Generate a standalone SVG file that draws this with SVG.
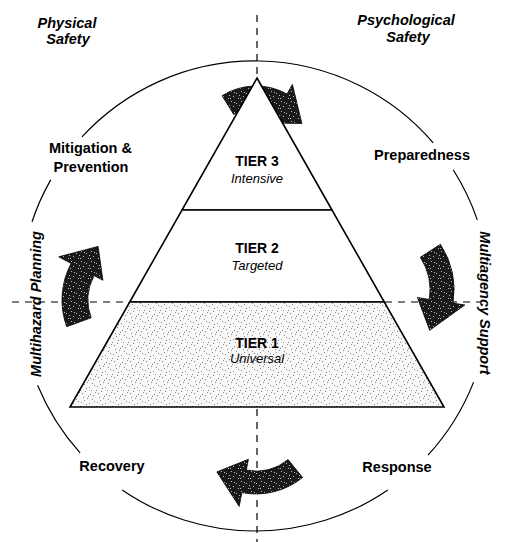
<svg xmlns="http://www.w3.org/2000/svg" width="508" height="542" viewBox="0 0 508 542">
  <style>
    .lbl { font-family: "Liberation Sans", Arial, sans-serif; font-size: 14.5px; font-weight: bold; fill: #000; text-anchor: middle; }
    .it { font-style: italic; }
    .tier { font-family: "Liberation Sans", Arial, sans-serif; font-size: 14px; font-weight: bold; fill: #000; text-anchor: middle; }
    .sub { font-family: "Liberation Sans", Arial, sans-serif; font-size: 13px; font-style: italic; fill: #000; text-anchor: middle; }
    .ring { fill: none; stroke: #000; stroke-width: 1.2; }
    .dash { fill: none; stroke: #000; stroke-width: 1.2; stroke-dasharray: 7 6; }
    .edge { stroke: #000; stroke-width: 1.6; stroke-linejoin: miter; }
    .arrow { fill: url(#dark); stroke: #000; stroke-width: 0.8; }
  </style>
  <defs>
    <pattern id="stipple" width="16" height="16" patternUnits="userSpaceOnUse">
      <rect width="16" height="16" fill="#f7f7f7"/>
      <path d="M1 2.5h1M5 7.5h1M9 3.5h1M13 11.5h1M3 13.5h1M11 6.5h1M7 14.5h1M14 1.5h1M2 9.5h1M10 10.5h1M6 4.5h1M15 8.5h1M12 15.5h1M4 0.5h1M8 12.5h1M0 6.5h1" stroke="#888" stroke-width="1"/>
    </pattern>
    <pattern id="dark" width="10" height="10" patternUnits="userSpaceOnUse">
      <rect width="10" height="10" fill="#1a1a1a"/>
      <path d="M1 1.5h1M6 3.5h1M3 6.5h1M8 8.5h1M4 2.5h1M9 5.5h1M0 8.5h1" stroke="#bbb" stroke-width="1"/>
    </pattern>
  </defs>
  <rect width="508" height="542" fill="#fff"/>

  <g id="ring">
    <path class="ring" d="M82.0 136.9 A235 235 0 0 1 433.2 142.8"/>
    <path class="ring" d="M453.2 169.7 A235 235 0 0 1 477.3 219.9"/>
    <path class="ring" d="M473.6 382.1 A235 235 0 0 1 428.0 455.1"/>
    <path class="ring" d="M387.8 489.9 A235 235 0 0 1 122.2 489.9"/>
    <path class="ring" d="M80.1 452.9 A235 235 0 0 1 37.6 385.2"/>
    <path class="ring" d="M32.0 221.8 A235 235 0 0 1 50.7 179.9"/>
  </g>

  <g id="axes">
    <line class="dash" x1="257" y1="15" x2="257" y2="78"/>
    <line class="dash" x1="257" y1="409" x2="257" y2="542"/>
    <line class="dash" x1="12" y1="302" x2="129" y2="302"/>
    <line class="dash" x1="385" y1="302" x2="480" y2="302"/>
  </g>

  <g id="arrows">
    <path id="arrow-top" class="arrow" d="M222.1 95.7 A64 64 0 0 1 287.0 94.0 L292.4 84.4 L301.9 123.5 L271.0 122.9 L276.4 113.3 A42 42 0 0 0 233.7 114.4 Z"/>
    <path id="arrow-right" class="arrow" d="M440.4 244.3 A84 84 0 0 1 453.0 303.1 L464.8 305.0 L429.7 330.3 L417.4 297.5 L429.3 299.4 A60 60 0 0 0 420.3 257.3 Z"/>
    <path id="arrow-bottom" class="arrow" d="M302.6 477.5 A74 74 0 0 1 241.9 492.6 L239.2 506.4 L216.9 471.9 L248.4 459.3 L246.3 470.1 A51 51 0 0 0 288.1 459.6 Z"/>
    <path id="arrow-left" class="arrow" d="M66.7 326.7 A78 78 0 0 1 71.1 263.4 L58.8 256.8 L98.1 246.4 L102.9 280.3 L94.1 275.6 A52 52 0 0 0 91.1 317.8 Z"/>
  </g>

  <g id="pyramid">
    <g id="tier3">
      <polygon class="edge" points="257,78 332,210 182,210" fill="#fff"/>
      <text class="tier" x="257" y="166">TIER 3</text>
      <text class="sub" x="257" y="183">Intensive</text>
    </g>
    <g id="tier2">
      <polygon class="edge" points="182,210 332,210 384.3,302 129.7,302" fill="#fff"/>
      <text class="tier" x="257" y="253">TIER 2</text>
      <text class="sub" x="257" y="270">Targeted</text>
    </g>
    <g id="tier1">
      <polygon class="edge" points="129.7,302 384.3,302 444,407 70,407" fill="url(#stipple)"/>
      <text class="tier" x="257" y="348">TIER 1</text>
      <text class="sub" x="257" y="363">Universal</text>
    </g>
  </g>

  <g id="labels">
    <g id="physical-safety">
      <text class="lbl it" x="67" y="28">Physical</text>
      <text class="lbl it" x="68" y="44">Safety</text>
    </g>
    <g id="psychological-safety">
      <text class="lbl it" x="406" y="25">Psychological</text>
      <text class="lbl it" x="408" y="42">Safety</text>
    </g>
    <g id="mitigation">
      <text class="lbl" x="90.5" y="153">Mitigation &amp;</text>
      <text class="lbl" x="91" y="172">Prevention</text>
    </g>
    <g id="preparedness">
      <text class="lbl" x="422" y="160">Preparedness</text>
    </g>
    <g id="recovery">
      <text class="lbl" x="112" y="471">Recovery</text>
    </g>
    <g id="response">
      <text class="lbl" x="397" y="472">Response</text>
    </g>
    <g id="multihazard">
      <text class="lbl it" transform="translate(41,304) rotate(-90)">Multihazard Planning</text>
    </g>
    <g id="multiagency">
      <text class="lbl it" transform="translate(480,303) rotate(90)">Multiagency Support</text>
    </g>
  </g>
</svg>
